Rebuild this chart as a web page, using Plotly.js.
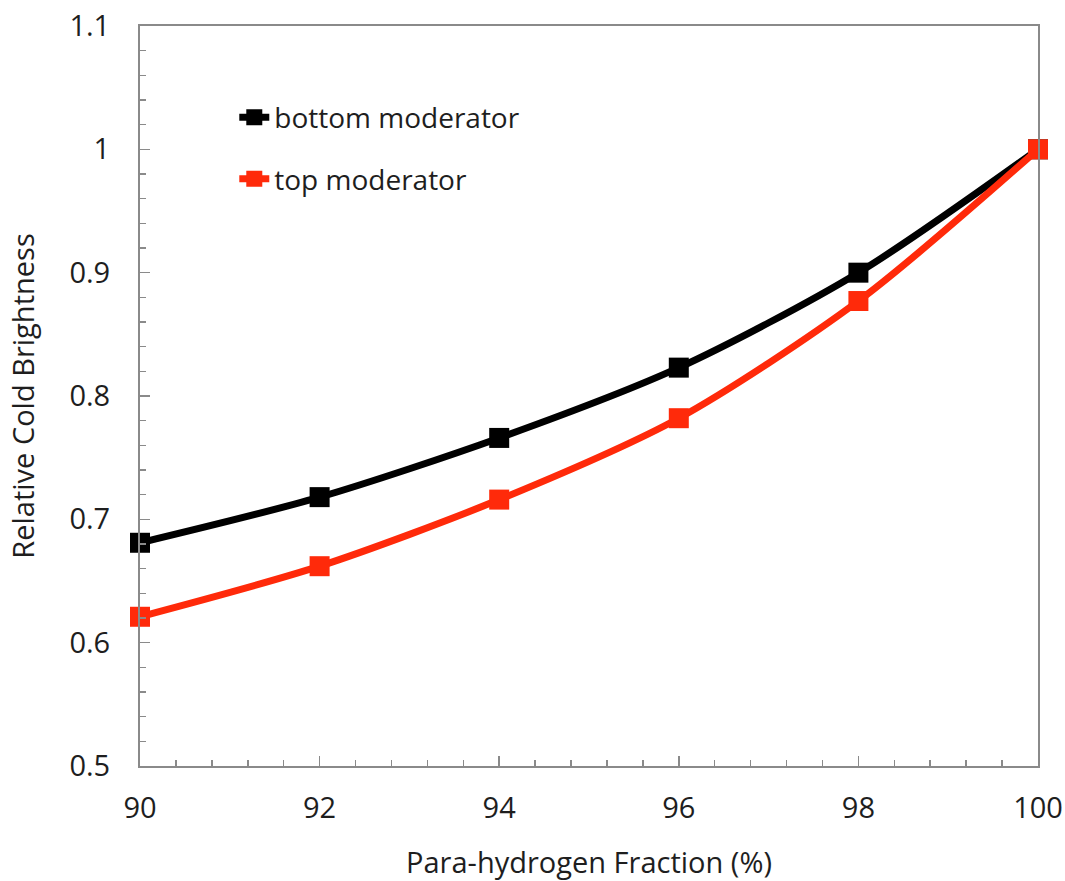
<!DOCTYPE html>
<html>
<head>
<meta charset="utf-8">
<script src="https://cdn.plot.ly/plotly-3.0.1.min.js"></script>
<style>html,body{margin:0;padding:0;background:#fff;}#chart{width:1065px;height:881px;}</style>
</head>
<body>
<div id="chart"></div>
<script>
const fraction = [90, 92, 94, 96, 98, 100];
const bottomModerator = [0.681, 0.718, 0.766, 0.823, 0.900, 1.000];
const topModerator = [0.621, 0.662, 0.716, 0.782, 0.877, 1.000];
const seriesNames = ["bottom moderator", "top moderator"];
const xTitle = "Para-hydrogen Fraction (%)";
const yTitle = "Relative Cold Brightness";

const FONT = "Open Sans, Liberation Sans, sans-serif";
const AXIS = "#8a8a8a";
const TXT = "#1e1e1e";

const traces = [
  {
    x: fraction, y: bottomModerator, name: seriesNames[0], legendgroup: "a",
    mode: "lines+markers", cliponaxis: false,
    line: {color: "#000000", width: 7, shape: "spline", smoothing: 0.8},
    marker: {symbol: "square", size: 20, color: "#000000"}
  },
  {
    x: fraction, y: topModerator, name: seriesNames[1], legendgroup: "b",
    mode: "lines+markers", cliponaxis: false,
    line: {color: "#ff2a0a", width: 7, shape: "spline", smoothing: 0.8},
    marker: {symbol: "square", size: 20, color: "#ff2a0a"}
  }
];

const layout = {
  width: 1065, height: 881,
  margin: {l: 140, r: 27, t: 26, b: 115},
  paper_bgcolor: "#ffffff", plot_bgcolor: "#ffffff",
  font: {family: FONT, color: TXT, size: 28},
  showlegend: true,
  legend: {
    x: 0.105, y: 0.835, xanchor: "left", yanchor: "middle",
    bgcolor: "rgba(0,0,0,0)", borderwidth: 0,
    font: {family: FONT, size: 28, color: TXT},
    traceorder: "grouped", tracegroupgap: 22, itemsizing: "trace"
  },
  xaxis: {
    range: [90, 100], dtick: 2, tick0: 90,
    showgrid: false, zeroline: false,
    showline: true, linecolor: AXIS, linewidth: 2, mirror: true,
    ticks: "inside", ticklen: 10, tickwidth: 1.5, tickcolor: AXIS,
    minor: {dtick: 0.4, ticks: "inside", ticklen: 6, tickwidth: 1.5, tickcolor: AXIS, showgrid: false},
    tickfont: {family: FONT, size: 29, color: TXT},
    ticklabelstandoff: 15,
    title: {text: xTitle, font: {family: FONT, size: 29, color: TXT}, standoff: 30}
  },
  yaxis: {
    range: [0.5, 1.1], dtick: 0.1, tick0: 0.5,
    showgrid: false, zeroline: false,
    showline: true, linecolor: AXIS, linewidth: 2, mirror: true,
    ticks: "inside", ticklen: 10, tickwidth: 1.5, tickcolor: AXIS,
    minor: {dtick: 0.02, ticks: "inside", ticklen: 6, tickwidth: 1.5, tickcolor: AXIS, showgrid: false},
    tickfont: {family: FONT, size: 29, color: TXT},
    ticklabelstandoff: 22,
    title: {text: yTitle, font: {family: FONT, size: 29, color: TXT}, standoff: 26}
  }
};

Plotly.newPlot("chart", traces, layout, {displayModeBar: false, staticPlot: true});
</script>
</body>
</html>
